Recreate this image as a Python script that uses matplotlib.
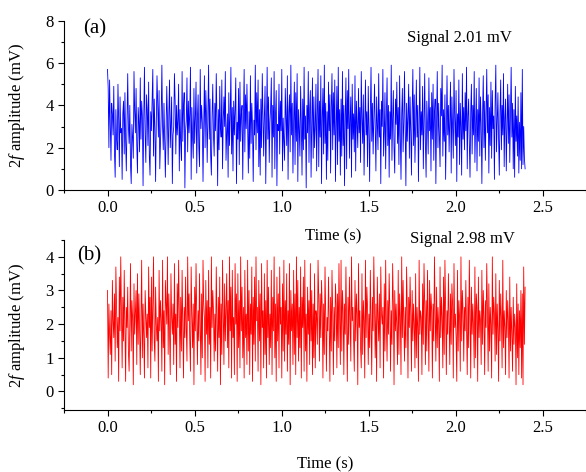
#!/usr/bin/env python3

# Two-panel 2f amplitude time traces, signal 2.01 mV (a) and 2.98 mV (b).

import numpy as np
import matplotlib
matplotlib.use('Agg')
import matplotlib.pyplot as plt
from matplotlib.ticker import MultipleLocator

plt.rcParams['font.family'] = ['Liberation Serif', 'DejaVu Serif']
plt.rcParams['mathtext.fontset'] = 'custom'
plt.rcParams['mathtext.rm'] = 'Liberation Serif'
plt.rcParams['mathtext.it'] = 'Liberation Serif:italic'

amp_a = [
    5.7, 4.8, 2.0, 5.2, 3.1, 1.4, 4.1, 3.6, 2.6, 4.9, 1.8, 0.6, 3.8, 2.4, 1.9, 5.0, 3.3, 1.1, 4.4, 2.7,
    2.9, 0.5, 3.6, 4.2, 1.7, 4.6, 2.3, 0.9, 3.3, 5.5, 3.0, 2.2, 4.0, 1.2, 0.3, 3.1, 2.5, 1.5, 5.6, 3.7,
    2.7, 4.8, 2.1, 0.8, 3.9, 3.2, 1.8, 5.3, 2.4, 4.2, 3.5, 0.2, 3.4, 5.8, 2.6, 1.3, 4.5, 3.8, 2.1, 5.1,
    1.6, 0.7, 3.7, 2.8, 4.3, 5.7, 1.6, 4.3, 2.9, 0.4, 3.2, 5.4, 4.1, 2.5, 4.7, 1.0, 2.2, 3.5, 5.9, 3.0,
    1.9, 4.1, 2.4, 0.6, 2.9, 4.9, 3.4, 1.2, 3.6, 5.2, 2.0, 3.1, 4.4, 0.3, 2.6, 3.0, 5.5, 4.2, 1.7, 4.0,
    2.6, 3.3, 5.0, 0.9, 3.8, 2.2, 1.4, 5.6, 2.3, 3.9, 4.6, 0.1, 2.8, 3.3, 5.3, 1.8, 4.2, 2.7, 3.6, 5.8,
    0.5, 3.9, 2.5, 1.5, 4.8, 2.2, 3.4, 5.1, 0.8, 3.4, 4.5, 2.0, 1.1, 5.7, 2.9, 4.0, 3.2, 0.4, 3.1, 5.4,
    2.0, 4.7, 3.5, 1.3, 3.7, 5.9, 2.4, 4.3, 1.6, 0.7, 3.5, 5.0, 2.6, 1.6, 4.1, 2.8, 5.5, 3.3, 0.2, 3.8,
    1.9, 4.9, 3.0, 2.5, 5.2, 1.0, 3.3, 4.4, 3.0, 5.6, 1.4, 2.7, 3.6, 0.6, 4.6, 2.1, 3.5, 5.8, 1.7, 3.9,
    0.9, 4.2, 2.6, 3.8, 5.3, 0.3, 3.2, 2.4, 4.8, 1.2, 5.1, 2.3, 3.6, 4.0, 0.5, 3.4, 5.7, 1.8, 4.5, 2.9,
    5.0, 3.1, 0.8, 3.7, 1.5, 5.4, 2.2, 4.1, 3.0, 0.4, 3.3, 2.6, 5.9, 1.9, 4.6, 2.7, 5.2, 1.1, 3.8, 0.7,
    4.3, 2.0, 5.5, 3.6, 1.6, 3.5, 4.9, 0.3, 3.0, 5.8, 2.4, 4.4, 1.3, 3.2, 3.9, 5.3, 0.6, 4.0, 2.5, 5.6,
    1.0, 3.6, 4.7, 0.2, 3.1, 2.8, 5.0, 1.7, 4.2, 2.8, 5.7, 0.9, 3.4, 2.3, 1.4, 4.8, 3.5, 2.1, 5.4, 0.5,
    3.7, 4.5, 1.8, 5.9, 2.6, 4.1, 0.8, 3.3, 5.1, 1.2, 4.6, 2.3, 5.5, 0.4, 3.8, 2.9, 1.6, 4.9, 3.2, 0.7,
    4.3, 1.9, 5.8, 2.4, 3.5, 0.1, 4.0, 2.7, 5.6, 1.3, 3.9, 4.7, 0.6, 3.2, 5.3, 1.5, 4.4, 2.0, 3.0, 5.0,
    0.9, 3.6, 5.7, 1.1, 4.2, 2.5, 5.4, 0.3, 3.4, 4.8, 1.7, 5.9, 2.2, 4.1, 0.5, 3.7, 1.4, 5.1, 2.8, 4.5,
    0.8, 3.9, 5.5, 1.9, 4.6, 2.6, 5.2, 0.4, 3.0, 4.9, 1.2, 5.8, 2.3, 3.8, 0.7, 4.3, 1.6, 5.6, 2.1, 4.0,
    0.2, 3.5, 5.3, 1.0, 4.7, 2.9, 5.7, 1.5, 3.3, 4.4, 0.6, 5.0, 2.4, 3.6, 1.8, 5.4, 0.9, 4.2, 3.1, 2.0,
    4.8, 2.7, 3.9, 1.3, 5.6, 3.4, 2.2, 4.5, 0.7, 3.1, 5.2, 2.6, 3.7, 1.1, 4.9, 2.9, 0.4, 3.6, 5.8, 2.3,
    4.1, 1.7, 3.3, 5.0, 2.8, 0.9, 4.4, 3.2, 1.9, 5.5, 2.5, 3.8, 0.3, 4.2, 3.0, 5.7, 1.6, 2.7, 4.6, 1.0,
    3.5, 5.3, 2.1, 4.0, 0.6, 3.7, 2.4, 5.9, 1.4, 3.4, 4.7, 2.0, 0.8, 4.3, 3.1, 5.1, 2.2, 3.9, 1.2, 5.4,
    2.6, 0.5, 3.6, 4.8, 1.8, 3.2, 5.6, 2.9, 0.2, 4.1, 2.3, 3.5, 5.0, 1.5, 4.4, 2.8, 0.7, 3.8, 5.7, 2.1,
    4.5, 1.3, 3.0, 5.2, 2.5, 4.0, 0.4, 3.3, 5.8, 1.9, 3.7, 2.6, 4.9, 1.0, 3.4, 5.5, 2.2, 0.6, 4.2, 3.1,
    1.7, 5.3, 2.8, 3.9, 0.9, 4.6, 2.4, 5.0, 1.4, 3.6, 4.3, 0.3, 3.2, 5.6, 2.0, 4.1, 2.7, 1.1, 4.8, 3.5,
    5.9, 1.6, 3.8, 2.3, 4.5, 0.5, 3.0, 5.4, 2.6, 4.0, 1.8, 3.3, 5.1, 0.8, 4.4, 2.9, 1.5, 5.7, 3.4, 2.1,
    4.7, 0.4, 3.6, 2.5, 5.2, 1.2, 4.1, 3.0, 0.7, 5.5, 2.4, 3.9, 1.9, 4.6, 2.8, 5.8, 1.0, 3.5, 4.3, 2.2,
    0.6, 3.7, 5.0, 1.7, 4.0, 2.6, 5.6, 1.3, 3.2, 4.8, 0.9, 3.8, 2.3, 5.3, 1.6, 4.4, 3.1, 0.3, 3.6, 5.4,
    2.0, 4.2, 1.4, 3.4, 5.7, 2.7, 4.5, 0.8, 3.9, 2.1, 5.1, 1.5, 4.7, 2.9, 3.5, 0.5, 4.1, 5.9, 1.8, 3.3,
    4.6, 2.4, 0.7, 3.7, 5.2, 1.9, 4.0, 2.6, 5.5, 1.1, 3.4, 4.3, 0.9, 3.0, 5.0, 2.2, 4.5, 1.3, 3.6, 5.8,
    2.5, 4.1, 1.0, 3.8, 0.6, 4.9, 2.3, 3.5, 1.6, 4.4, 0.8, 3.2, 1.4, 4.6, 1.0, 5.7, 1.2, 3.0, 1.5, 1.0,
]

amp_b = [
    3.0, 0.4, 2.6, 1.7, 1.1, 2.4, 0.5, 3.3, 2.1, 1.6, 2.9, 0.9, 3.7, 2.5, 1.3, 2.2, 0.3, 3.4, 1.8, 4.0,
    2.4, 0.7, 2.8, 1.5, 3.6, 2.0, 0.3, 2.5, 1.9, 3.1, 1.2, 0.6, 2.0, 3.8, 1.2, 2.7, 2.2, 0.2, 3.2, 1.7,
    2.4, 3.0, 0.8, 3.5, 1.4, 2.9, 1.9, 0.5, 2.1, 3.9, 1.0, 2.6, 1.6, 0.4, 3.0, 2.3, 1.6, 2.3, 0.7, 3.7,
    1.9, 2.8, 0.4, 3.4, 1.2, 2.5, 4.0, 1.5, 0.9, 3.1, 2.0, 1.5, 2.2, 0.3, 3.6, 1.8, 2.7, 2.1, 0.6, 3.9,
    1.3, 2.4, 0.2, 3.3, 2.6, 2.0, 4.0, 1.1, 2.9, 1.7, 0.5, 3.5, 2.2, 1.7, 2.6, 0.8, 3.8, 1.4, 2.3, 0.3,
    3.2, 1.9, 3.9, 2.4, 0.7, 2.8, 1.2, 3.6, 2.1, 0.4, 2.5, 1.6, 3.4, 1.9, 0.9, 4.0, 2.1, 2.9, 1.5, 0.6,
    3.7, 2.3, 1.3, 2.6, 0.2, 3.1, 1.8, 3.8, 2.2, 0.8, 2.4, 1.5, 3.5, 2.0, 0.5, 2.9, 1.0, 3.9, 2.6, 2.2,
    0.3, 3.3, 1.7, 2.7, 0.7, 3.6, 1.4, 2.5, 0.4, 4.0, 1.9, 3.0, 2.4, 0.9, 2.3, 1.2, 3.7, 2.1, 0.6, 2.8,
    1.6, 3.4, 0.2, 2.6, 1.1, 3.9, 2.3, 0.8, 3.2, 1.5, 2.4, 3.5, 1.3, 2.7, 0.7, 4.0, 1.8, 3.1, 0.4, 3.6,
    1.6, 2.2, 0.5, 3.8, 2.0, 2.9, 0.3, 3.5, 1.3, 2.7, 0.7, 4.0, 1.8, 3.1, 1.0, 2.5, 0.4, 3.6, 1.6, 2.3,
    0.8, 3.9, 1.2, 3.0, 0.5, 2.6, 1.7, 3.7, 0.3, 2.8, 1.4, 3.4, 0.9, 4.0, 2.1, 2.5, 0.6, 3.3, 1.5, 2.9,
    0.2, 3.8, 1.9, 2.4, 0.7, 3.5, 1.1, 2.7, 0.4, 3.9, 1.6, 3.1, 0.8, 2.3, 1.3, 3.6, 0.5, 2.8, 1.8, 4.0,
    1.0, 2.6, 0.3, 3.4, 1.5, 2.9, 0.7, 3.7, 2.0, 2.5, 0.4, 3.2, 1.2, 3.9, 0.9, 2.7, 1.7, 3.5, 0.6, 2.4,
    1.4, 3.8, 0.2, 3.0, 1.8, 2.6, 0.8, 3.6, 1.1, 2.9, 0.5, 4.0, 1.6, 3.3, 0.9, 2.5, 1.3, 3.7, 0.4, 2.8,
    1.9, 3.4, 0.6, 3.9, 1.2, 2.3, 0.3, 3.1, 1.7, 2.7, 0.8, 3.8, 1.5, 3.0, 0.5, 2.6, 1.0, 3.5, 0.7, 2.4,
    2.2, 1.4, 3.9, 2.8, 0.9, 2.9, 1.6, 3.3, 2.5, 0.4, 2.6, 1.1, 3.7, 2.3, 0.6, 2.2, 1.8, 3.4, 2.0, 0.3,
    2.8, 1.2, 3.6, 2.4, 0.5, 2.5, 1.5, 3.2, 2.6, 0.7, 2.9, 1.3, 3.8, 2.1, 0.8, 3.9, 1.2, 3.0, 2.4, 0.5,
    2.6, 1.7, 3.7, 2.0, 0.3, 2.8, 1.4, 3.4, 2.2, 0.9, 4.0, 2.1, 2.5, 1.6, 0.6, 3.3, 1.5, 2.9, 2.3, 0.2,
    3.8, 1.9, 2.4, 1.3, 0.7, 3.5, 1.1, 2.7, 2.1, 0.4, 3.9, 1.6, 3.1, 2.5, 0.8, 2.3, 1.3, 3.6, 2.0, 0.5,
    2.8, 1.8, 4.0, 2.4, 1.0, 2.6, 0.3, 3.4, 2.2, 1.5, 2.9, 0.7, 3.7, 2.3, 2.0, 2.5, 0.4, 3.2, 1.2, 3.9,
    2.0, 0.9, 2.7, 1.7, 3.5, 2.4, 0.6, 2.4, 1.4, 3.8, 2.6, 0.2, 3.0, 1.8, 2.6, 1.9, 0.8, 3.6, 1.1, 2.9,
    2.2, 0.5, 4.0, 1.6, 3.3, 2.1, 0.9, 2.5, 1.3, 3.7, 2.4, 0.4, 2.8, 1.9, 3.4, 2.3, 0.6, 3.0, 1.5, 2.6,
    2.0, 0.7, 3.5, 1.0, 2.5, 1.9, 0.3, 3.9, 1.7, 2.4, 2.2, 0.5, 3.2, 1.4, 3.8, 2.6, 0.8, 2.7, 1.2, 3.6,
    2.1, 0.6, 3.3, 1.8, 2.9, 2.4, 0.4, 2.6, 1.5, 4.0, 2.3, 0.9, 3.1, 1.3, 2.5, 2.0, 0.3, 3.7, 1.6, 2.8,
    2.2, 0.7, 3.4, 1.1, 3.9, 2.5, 0.5, 2.4, 1.7, 3.5, 2.1, 0.8, 2.9, 1.4, 3.2, 2.6, 0.4, 3.8, 1.9, 2.3,
    1.6, 0.3, 3.6, 1.2, 2.7, 2.2, 0.6, 4.0, 1.5, 3.0, 2.4, 0.9, 2.5, 1.8, 3.3, 2.0, 0.5, 2.8, 1.3, 3.9,
    2.3, 0.4, 3.1, 1.7, 2.6, 1.9, 0.7, 3.7, 1.0, 2.9, 2.5, 0.3, 3.4, 1.6, 2.4, 2.1, 0.8, 3.6, 1.4, 3.0,
    2.2, 0.5, 2.7, 1.9, 3.8, 2.4, 0.6, 3.2, 1.2, 2.5, 2.0, 0.4, 4.0, 1.7, 2.8, 2.3, 0.9, 3.5, 1.1, 2.6,
    1.8, 0.3, 3.3, 1.5, 2.9, 2.2, 0.7, 3.9, 1.3, 2.4, 1.9, 0.5, 3.0, 1.6, 2.7, 2.1, 0.4, 3.4, 1.2, 2.5,
    1.7, 0.6, 2.8, 1.4, 2.3, 1.9, 0.2, 3.2, 1.0, 2.6, 0.5, 2.4, 1.3, 3.0, 0.4, 2.9, 0.2, 3.7, 1.4, 3.1,
]

t_end = 2.4  # record length (s)
t_a = np.linspace(0, t_end, len(amp_a))
t_b = np.linspace(0, t_end, len(amp_b))

W, H = 586, 472
fig = plt.figure(figsize=(W/100, H/100), dpi=100)
ax1 = fig.add_axes([64/W, 1 - 190/H, 1 - 64/W, (190 - 20.7)/H])
ax2 = fig.add_axes([64/W, 1 - 410/H, 1 - 64/W, (410 - 240)/H])

ax1.plot(t_a, amp_a, color='#0000ff', lw=0.6)
ax2.plot(t_b, amp_b, color='#ff0000', lw=0.6)

for ax in (ax1, ax2):
    ax.spines['top'].set_visible(False)
    ax.spines['right'].set_visible(False)
    ax.spines['left'].set_linewidth(0.8)
    ax.spines['bottom'].set_linewidth(0.8)
    ax.set_xlim(-0.25, 2.75)
    ax.xaxis.set_major_locator(MultipleLocator(0.5))
    ax.xaxis.set_minor_locator(MultipleLocator(0.25))
    ax.tick_params(which='major', direction='out', length=4, width=0.8, labelsize=12)
    ax.tick_params(which='minor', direction='out', length=2.5, width=0.8)
    ax.set_xticks([0, 0.5, 1.0, 1.5, 2.0, 2.5])
    ax.set_xticklabels(['0.0', '0.5', '1.0', '1.5', '2.0', '2.5'])
    ax.set_ylabel('2$f$ amplitude (mV)', fontsize=12)
    ax.yaxis.set_label_coords(-37/522, 0.5)

ax1.set_ylim(0, 8)
ax1.yaxis.set_major_locator(MultipleLocator(2))
ax1.yaxis.set_minor_locator(MultipleLocator(1))

ax2.set_ylim(-0.55, 4.5)
ax2.set_yticks([0, 1, 2, 3, 4])
ax2.yaxis.set_minor_locator(MultipleLocator(0.5))

ax1.text(-0.14, 7.6, '(a)', fontsize=15, ha='left', va='center')
ax1.text(1.72, 7.2, 'Signal 2.01 mV', fontsize=12, ha='left', va='center')
ax2.text(-0.175, 4.02, '(b)', fontsize=15, ha='left', va='center')
ax2.text(1.74, 4.52, 'Signal 2.98 mV', fontsize=12, ha='left', va='center', clip_on=False)

fig.text(333/W, 1 - 236/H, 'Time (s)', fontsize=12, ha='center', va='center')
fig.text(325/W, 1 - 464/H, 'Time (s)', fontsize=12, ha='center', va='center')

plt.savefig('out.png', dpi=100)
plt.close()
